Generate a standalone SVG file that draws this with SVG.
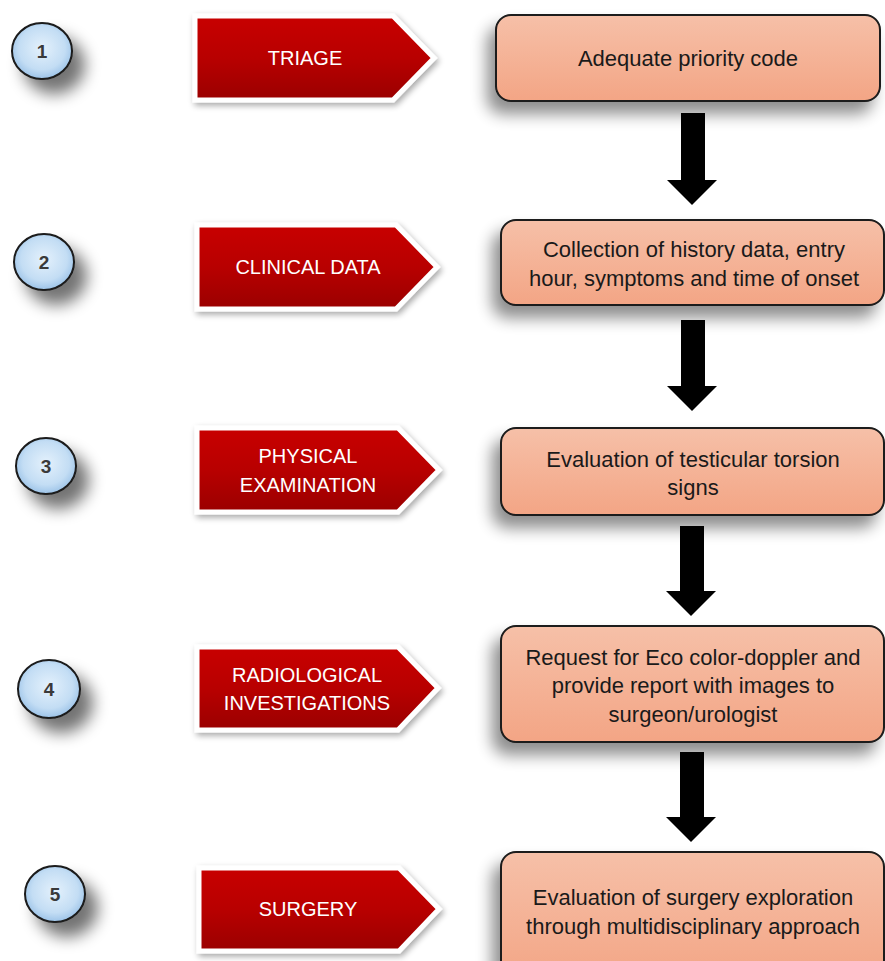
<svg xmlns="http://www.w3.org/2000/svg" width="885" height="961" viewBox="0 0 885 961">
<defs>
<style>
.num{font-family:"Liberation Sans",Arial,sans-serif;font-size:19px;font-weight:bold;fill:#3a3a3a;text-anchor:middle}
.lbl{font-family:"Liberation Sans",Arial,sans-serif;font-size:20px;fill:#ffffff;text-anchor:middle}
.box{font-family:"Liberation Sans",Arial,sans-serif;font-size:22px;fill:#1a1a1a;text-anchor:middle}
.circ{fill:url(#cg);stroke:#1a1a1a;stroke-width:2;filter:url(#sh1)}
.tag{fill:url(#rg);stroke:#ffffff;stroke-width:5;stroke-linejoin:miter;filter:url(#sh2)}
.rbox{fill:url(#pg);stroke:#1a1a1a;stroke-width:2;filter:url(#sh3)}
.arr{fill:#000000}
</style>
<radialGradient id="cg" cx="50%" cy="45%" r="55%">
<stop offset="0" stop-color="#e4f1fc"/>
<stop offset="0.7" stop-color="#c3ddf4"/>
<stop offset="1" stop-color="#9cc3e8"/>
</radialGradient>
<linearGradient id="rg" x1="0" y1="0" x2="0" y2="1">
<stop offset="0" stop-color="#c80000"/>
<stop offset="0.5" stop-color="#b80000"/>
<stop offset="1" stop-color="#9a0000"/>
</linearGradient>
<linearGradient id="pg" x1="0" y1="0" x2="0" y2="1">
<stop offset="0" stop-color="#f6c0a8"/>
<stop offset="1" stop-color="#f3a585"/>
</linearGradient>
<filter id="sh1" x="-50%" y="-50%" width="220%" height="220%">
<feGaussianBlur in="SourceAlpha" stdDeviation="8"/>
<feOffset dx="12" dy="14" result="b"/>
<feComponentTransfer><feFuncA type="linear" slope="0.55"/></feComponentTransfer>
<feMerge><feMergeNode/><feMergeNode in="SourceGraphic"/></feMerge>
</filter>
<filter id="sh2" x="-10%" y="-20%" width="125%" height="150%">
<feGaussianBlur in="SourceAlpha" stdDeviation="3"/>
<feOffset dx="2" dy="3"/>
<feComponentTransfer><feFuncA type="linear" slope="0.35"/></feComponentTransfer>
<feMerge><feMergeNode/><feMergeNode in="SourceGraphic"/></feMerge>
</filter>
<filter id="sh3" x="-15%" y="-30%" width="130%" height="180%">
<feGaussianBlur in="SourceAlpha" stdDeviation="8"/>
<feOffset dx="-8" dy="12"/>
<feComponentTransfer><feFuncA type="linear" slope="0.45"/></feComponentTransfer>
<feMerge><feMergeNode/><feMergeNode in="SourceGraphic"/></feMerge>
</filter>
</defs>
<rect width="885" height="961" fill="#ffffff"/>

<g id="step1">
<ellipse class="circ" cx="42" cy="51" rx="30" ry="28"/>
<text class="num" x="42" y="58">1</text>
</g>
<g id="step2">
<ellipse class="circ" cx="44" cy="262" rx="30" ry="28"/>
<text class="num" x="44" y="269">2</text>
</g>
<g id="step3">
<ellipse class="circ" cx="46" cy="466" rx="30" ry="28"/>
<text class="num" x="46" y="473">3</text>
</g>
<g id="step4">
<ellipse class="circ" cx="49" cy="689" rx="31" ry="29"/>
<text class="num" x="49" y="696">4</text>
</g>
<g id="step5">
<ellipse class="circ" cx="55" cy="894" rx="30" ry="28"/>
<text class="num" x="55" y="901">5</text>
</g>

<g id="tag1">
<polygon class="tag" points="195,16 393,16 434,58 393,100 195,100"/>
<text class="lbl" x="305" y="65">TRIAGE</text>
</g>
<g id="tag2">
<polygon class="tag" points="197,225 396,225 437,267 396,309 197,309"/>
<text class="lbl" x="308" y="274">CLINICAL DATA</text>
</g>
<g id="tag3">
<polygon class="tag" points="197,428 398,428 439,470 398,512 197,512"/>
<text class="lbl" x="308" y="463">PHYSICAL</text>
<text class="lbl" x="308" y="492">EXAMINATION</text>
</g>
<g id="tag4">
<polygon class="tag" points="197,647 398,647 438,688 398,730 197,730"/>
<text class="lbl" x="307" y="682">RADIOLOGICAL</text>
<text class="lbl" x="307" y="710">INVESTIGATIONS</text>
</g>
<g id="tag5">
<polygon class="tag" points="199,868 399,868 439,909 399,951 199,951"/>
<text class="lbl" x="308" y="916">SURGERY</text>
</g>

<g id="box1">
<rect class="rbox" x="496" y="15" width="384" height="86" rx="15"/>
<text class="box" x="688" y="66">Adequate priority code</text>
</g>
<g id="box2">
<rect class="rbox" x="501" y="220" width="383" height="85" rx="15"/>
<text class="box" x="694" y="257">Collection of history data, entry</text>
<text class="box" x="694" y="286">hour, symptoms and time of onset</text>
</g>
<g id="box3">
<rect class="rbox" x="501" y="428" width="383" height="87" rx="15"/>
<text class="box" x="693" y="467">Evaluation of testicular torsion</text>
<text class="box" x="693" y="495">signs</text>
</g>
<g id="box4">
<rect class="rbox" x="501" y="626" width="383" height="116" rx="15"/>
<text class="box" x="693" y="665">Request for Eco color-doppler and</text>
<text class="box" x="693" y="693">provide report with images to</text>
<text class="box" x="693" y="722">surgeon/urologist</text>
</g>
<g id="box5">
<rect class="rbox" x="501" y="852" width="383" height="130" rx="15"/>
<text class="box" x="693" y="905">Evaluation of surgery exploration</text>
<text class="box" x="693" y="934">through multidisciplinary approach</text>
</g>

<g id="connectors">
<polygon class="arr" points="681,113 705,113 705,180 717,180 692,205 667,180 681,180"/>
<polygon class="arr" points="681,320 705,320 705,386 717,386 692,411 667,386 681,386"/>
<polygon class="arr" points="680,526 704,526 704,591 716,591 691,616 666,591 680,591"/>
<polygon class="arr" points="680,752 704,752 704,817 716,817 691,842 666,817 680,817"/>
</g>
</svg>
